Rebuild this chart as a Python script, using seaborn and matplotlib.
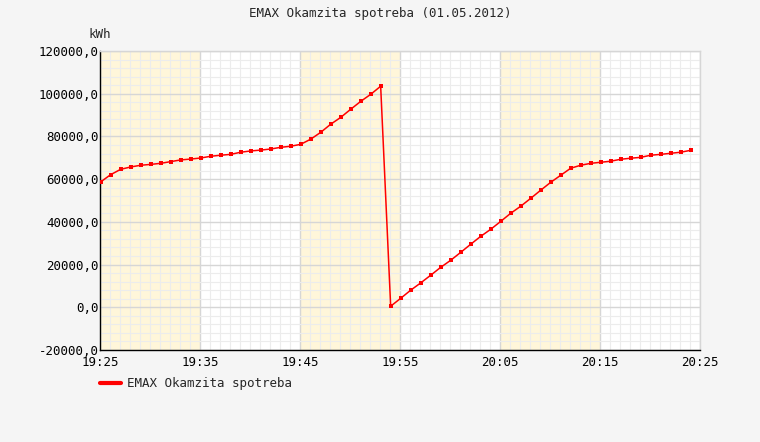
import matplotlib
matplotlib.use("Agg")

import matplotlib.pyplot as plt
import matplotlib.dates as mdates
import matplotlib.ticker as ticker
from matplotlib.lines import Line2D
import seaborn as sns
import pandas as pd

# ── Data ─────────────────────────────────────────────────────────────────────
times = pd.date_range("2012-05-01 19:25:04", periods=60, freq="min")
consumption = [
    58700, 62100, 64600, 65700, 66500, 66900, 67400, 68200, 69000, 69400,
    69900, 70700, 71200, 71600, 72600, 73200, 73600, 74100, 74900, 75400,
    76300, 78700, 81900, 85700, 88900, 92700, 96400, 99700, 103500, 500,
    4200, 8000, 11400, 15000, 18700, 22000, 25700, 29500, 33200, 36500,
    40200, 44000, 47300, 51000, 54800, 58500, 61800, 65100, 66500, 67400,
    67900, 68400, 69300, 69800, 70200, 71200, 71600, 72100, 72600, 73500,
]
band_starts = ["2012-05-01 19:25", "2012-05-01 19:45", "2012-05-01 20:05"]
band_ends = ["2012-05-01 19:35", "2012-05-01 19:55", "2012-05-01 20:15"]
x_start, x_end = "2012-05-01 19:25", "2012-05-01 20:25"
series_name = "EMAX Okamzita spotreba"
title = "EMAX Okamzita spotreba (01.05.2012)"

df = pd.DataFrame({"time": times, "value": consumption})

# ── Style ────────────────────────────────────────────────────────────────────
sns.set_style("white")
plt.rcParams["font.family"] = ["DejaVu Sans Mono"]
FS = 9.0
BG = "#f5f5f5"
BAND = "#fff6da"
RED = "#ff0000"

W, H = 760, 442
fig = plt.figure(figsize=(W / 100, H / 100), dpi=100, facecolor=BG)
ax = fig.add_axes([100 / W, (H - 350) / H, 600 / W, 299 / H])
ax.set_facecolor("white")

for s, e in zip(band_starts, band_ends):
    ax.axvspan(pd.Timestamp(s), pd.Timestamp(e), color=BAND, lw=0, zorder=0)

sns.lineplot(
    data=df, x="time", y="value", ax=ax,
    color=RED, linewidth=1.1, marker="s", markersize=3.2,
    markeredgewidth=0, zorder=3,
)

ax.set_xlim(pd.Timestamp(x_start), pd.Timestamp(x_end))
ax.set_ylim(-20000, 120000)

ax.xaxis.set_major_locator(mdates.MinuteLocator(byminute=[5, 15, 25, 35, 45, 55]))
ax.xaxis.set_minor_locator(mdates.MinuteLocator())
ax.xaxis.set_major_formatter(mdates.DateFormatter("%H:%M"))
ax.yaxis.set_major_locator(ticker.MultipleLocator(20000))
ax.yaxis.set_minor_locator(ticker.MultipleLocator(4000))
ax.yaxis.set_major_formatter(
    ticker.FuncFormatter(lambda v, _: f"{v:.1f}".replace(".", ","))
)

ax.grid(which="minor", color="#ececec", lw=0.8, zorder=1)
ax.grid(which="major", color="#d6d6d6", lw=1.0, zorder=1)
ax.set_axisbelow(True)

ax.tick_params(which="both", length=0, labelsize=FS, colors="black")
ax.tick_params(axis="y", pad=1)
ax.tick_params(axis="x", pad=4)
ax.set_xlabel("")
ax.set_ylabel("")

for side in ["top", "right"]:
    ax.spines[side].set_color("#d6d6d6")
    ax.spines[side].set_linewidth(1.0)
for side in ["left", "bottom"]:
    ax.spines[side].set_color("black")
    ax.spines[side].set_linewidth(1.0)

fig.text(0.5, 1 - 14 / H, title, ha="center", va="center", fontsize=FS)
fig.text(100 / W, 1 - 34 / H, "kWh", ha="center", va="center", fontsize=FS)

handle = Line2D([], [], color=RED, lw=3)
ax.legend(
    [handle], [series_name],
    loc="center left", bbox_to_anchor=(100 / W, 1 - 384 / H),
    bbox_transform=fig.transFigure, frameon=False, fontsize=FS,
    handlelength=1.7, handletextpad=0.45, borderpad=0, borderaxespad=0,
)

fig.savefig("out.png", dpi=100, facecolor=BG)
plt.close(fig)
